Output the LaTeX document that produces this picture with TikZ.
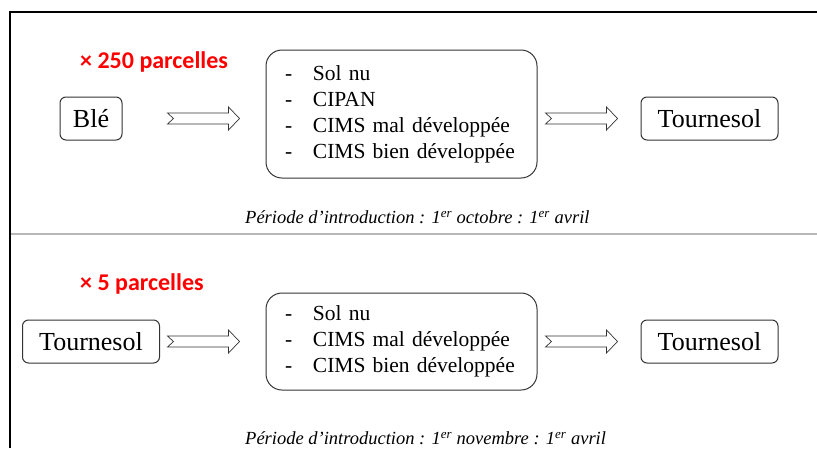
\documentclass[tikz,border=0pt]{standalone}
\usepackage{fontspec}
\setmainfont{Liberation Serif}
\newfontfamily\labelfont{Carlito}
\usetikzlibrary{calc, positioning}

\newcommand\lstitem[1]{\mbox{\makebox[28pt][l]{-}#1}}

\begin{document}
\begin{tikzpicture}[
    x=1pt, y=-1pt,
    sidebox/.style={draw=black!80, rounded corners=6pt, line width=1pt, minimum height=43pt, inner sep=0pt, font=\fontsize{26}{30}\selectfont},
    listbox/.style={draw=black!80, rounded corners=16pt, line width=1pt, align=left, text width=233pt, inner xsep=19pt, inner ysep=0pt, font=\fontsize{21.5}{26}\selectfont},
    countlabel/.style={anchor=west, inner sep=0pt, text=red, font=\labelfont\bfseries\fontsize{24}{28}\selectfont},
    periodlabel/.style={anchor=west, inner sep=0pt, font=\itshape\fontsize{18.5}{22}\selectfont},
    blockarrow/.style={draw=black!80, line width=0.7pt, line join=miter, to path={
        let \p1=(\tikztostart), \p2=(\tikztotarget) in
        (\x1,\y1+5.5pt) -- (\x2-11pt,\y1+5.5pt) -- (\x2-11pt,\y1+11.5pt) -- (\x2,\y1)
        -- (\x2-11pt,\y1-11.5pt) -- (\x2-11pt,\y1-5.5pt) -- (\x1,\y1-5.5pt) -- (\x1+6pt,\y1) -- cycle}}
]
\useasboundingbox (0,0) rectangle (817,448);

% Frame
\draw[line width=2pt] (10,448) -- (10,12) -- (817,12);
\draw[line width=2.5pt, black!28] (11,234) -- (817,234);

% First rotation
\node[sidebox, minimum width=62pt] (ble) at (91,118.5) {Blé};
\node[listbox, minimum height=128pt] (mid1) at (401.5,114) {\lstitem{Sol nu}\\ \lstitem{CIPAN}\\ \lstitem{CIMS mal développée}\\ \lstitem{CIMS bien développée}};
\node[sidebox, minimum width=137pt] (tour1) at (709.5,118.5) {Tournesol};
\node[countlabel] (count1) at (80,62) {× 250 parcelles};
\node[periodlabel] (period1) at (245,217) {Période d’introduction : 1\textsuperscript{er} octobre : 1\textsuperscript{er} avril};

\draw[blockarrow] ([xshift=45pt]ble.east) to ([xshift=-26pt]mid1.west);
\draw[blockarrow] ([xshift=8pt]mid1.east |- tour1.west) to ([xshift=-23pt]tour1.west);

% Second rotation
\node[sidebox, minimum width=137pt] (tour2) at (91,341.5) {Tournesol};
\node[listbox, minimum height=97pt] (mid2) at (401.5,341.5) {\lstitem{Sol nu}\\ \lstitem{CIMS mal développée}\\ \lstitem{CIMS bien développée}};
\node[sidebox, minimum width=137pt] (tour3) at (709.5,341.5) {Tournesol};
\node[countlabel] (count2) at (80,284) {× 5 parcelles};
\node[periodlabel] (period2) at (245,438) {Période d’introduction : 1\textsuperscript{er} novembre : 1\textsuperscript{er} avril};

\draw[blockarrow] ([xshift=7.5pt]tour2.east) to ([xshift=-26pt]mid2.west);
\draw[blockarrow] ([xshift=8pt]mid2.east |- tour3.west) to ([xshift=-23pt]tour3.west);

\end{tikzpicture}
\end{document}
